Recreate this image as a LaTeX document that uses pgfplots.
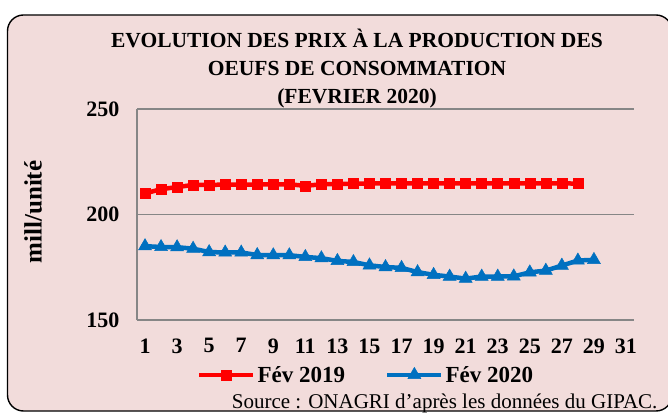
\documentclass[border=0pt]{standalone}
\usepackage{fontspec}
\setmainfont{Liberation Serif}
\usepackage{pgfplots}
\pgfplotsset{compat=1.18}
\definecolor{bgpink}{RGB}{242,220,219}
\definecolor{xlblue}{RGB}{0,112,192}
\definecolor{xlred}{RGB}{255,0,0}
\definecolor{gridgray}{RGB}{134,134,134}
\begin{document}
\begin{tikzpicture}[x=1pt,y=1pt]
\path[use as bounding box] (0,0) rectangle (668,412);
\draw[rounded corners=16pt, fill=bgpink, line width=1.4pt] (7.5,1) rectangle (672,397);
\node[font=\bfseries\fontsize{21.5}{28}\selectfont, align=center] at (357,343) {EVOLUTION DES PRIX À LA PRODUCTION DES\\OEUFS DE CONSOMMATION\\(FEVRIER 2020)};
\node[font=\bfseries\fontsize{25}{26}\selectfont, rotate=90] at (33,200) {mill/unité};
\node[font=\fontsize{21}{22}\selectfont, anchor=east] at (661,9) {Source : ONAGRI d’après les données du GIPAC.};
\begin{axis}[
  at={(137pt,92pt)}, anchor=south west,
  scale only axis, width=497pt, height=211pt,
  xmin=0.5, xmax=31.5, ymin=150, ymax=250,
  xtick={1,3,...,31}, ytick={150,200,250},
  axis x line=bottom, axis y line=left,
  axis line style={gridgray, line width=1.2pt, -},
  major tick length=0pt,
  ymajorgrids, grid style={gridgray, line width=1.2pt},
  /pgf/number format/assume math mode=true,
  ticklabel style={font=\bfseries\fontsize{22}{22}\selectfont},
  xticklabel style={yshift=-15pt},
  yticklabel style={xshift=-14pt},
  legend style={at={(0.461,-0.26)}, anchor=center, draw=none, fill=none,
    font=\bfseries\fontsize{23}{24}\selectfont, legend columns=2,
    /tikz/every even column/.append style={column sep=38pt}},
  legend image code/.code={
    \draw[#1, mark repeat=2, mark phase=2] plot coordinates {(0pt,0pt) (27pt,0pt) (54pt,0pt)};},
]
\addplot[xlred, line width=4.5pt, mark=square*, mark size=5pt, mark options={solid, line width=0.5pt}] table {
x y
1 210
2 212
3 213
4 214
5 214
6 214.2
7 214.2
8 214.2
9 214.3
10 214.3
11 213.6
12 214.3
13 214.5
14 214.6
15 214.7
16 214.8
17 214.8
18 214.8
19 214.8
20 214.8
21 214.8
22 214.8
23 214.8
24 214.8
25 214.8
26 214.8
27 214.8
28 214.6
};
\addlegendentry{Fév 2019}
\addplot[xlblue, line width=4.5pt, mark=triangle*, mark size=7.5pt, mark options={solid, line width=0.5pt}] table {
x y
1 185
2 184.6
3 184.5
4 183.8
5 182.2
6 182
7 182
8 180.8
9 180.7
10 180.7
11 179.9
12 179.3
13 178
14 177.5
15 175.9
16 175.1
17 174.7
18 172.7
19 171.4
20 170.6
21 169.6
22 170.6
23 170.6
24 170.7
25 172.6
26 173.4
27 175.8
28 178.2
29 178.5
};
\addlegendentry{Fév 2020}
\end{axis}
\end{tikzpicture}
\end{document}
